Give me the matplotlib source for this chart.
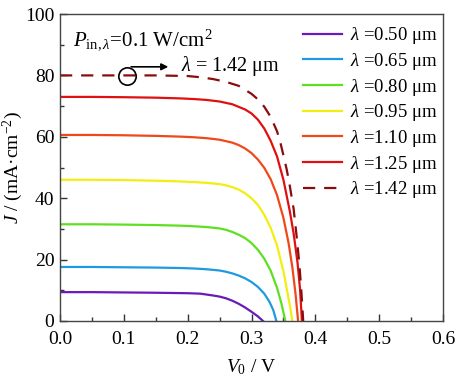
import numpy as np
import matplotlib
matplotlib.use("Agg")
import matplotlib.pyplot as plt

plt.rcParams['font.family'] = ['Liberation Serif', 'DejaVu Serif']
plt.rcParams['mathtext.fontset'] = 'custom'
plt.rcParams['mathtext.rm'] = 'Liberation Serif'
plt.rcParams['mathtext.it'] = 'Liberation Serif:italic'

# J-V curves, V in volts, J in mA/cm2
labels = ['0.50', '0.65', '0.80', '0.95', '1.10', '1.25', '1.42']
colors = ['#6a1ab8', '#1e9ae0', '#5ee020', '#f2ee10', '#f04818', '#e01010', '#8b0c0c']

v050 = [0, 0.05, 0.10, 0.15, 0.20, 0.22, 0.23, 0.24, 0.25, 0.26, 0.27, 0.28, 0.29, 0.30, 0.31, 0.318]
j050 = [9.4, 9.4, 9.3, 9.2, 9.05, 8.9, 8.6, 8.3, 7.95, 7.4, 6.6, 5.6, 4.4, 3.0, 1.5, 0]
v065 = [0, 0.05, 0.10, 0.15, 0.19, 0.21, 0.23, 0.25, 0.26, 0.27, 0.28, 0.29, 0.30, 0.31, 0.32, 0.328, 0.334, 0.339]
j065 = [17.6, 17.6, 17.5, 17.4, 17.25, 17.1, 16.85, 16.45, 16.05, 15.5, 14.8, 13.9, 12.7, 11.1, 8.9, 6.3, 3.6, 0]
v080 = [0, 0.05, 0.10, 0.15, 0.19, 0.21, 0.23, 0.25, 0.26, 0.27, 0.28, 0.29, 0.30, 0.31, 0.32, 0.33, 0.34, 0.347, 0.353]
j080 = [31.5, 31.5, 31.4, 31.25, 31.05, 30.85, 30.6, 30.15, 29.7, 29.0, 28.1, 27.0, 25.4, 23.2, 20.3, 16.4, 10.8, 5.6, 0]
v095 = [0, 0.05, 0.10, 0.15, 0.19, 0.21, 0.23, 0.25, 0.26, 0.27, 0.28, 0.29, 0.30, 0.31, 0.32, 0.33, 0.34,
        0.35, 0.356, 0.361, 0.364]
j095 = [46, 46, 45.9, 45.7, 45.45, 45.25, 45.0, 44.6, 44.2, 43.6, 42.8, 41.6, 40.0, 37.8, 34.6, 30.4, 24.6,
        16.2, 9.6, 4.0, 0]
v110 = [0, 0.05, 0.10, 0.15, 0.19, 0.21, 0.23, 0.25, 0.27, 0.28, 0.29, 0.30, 0.31, 0.32, 0.33, 0.34, 0.35,
        0.358, 0.364, 0.369, 0.373]
j110 = [60.6, 60.6, 60.5, 60.3, 60.05, 59.85, 59.55, 59.05, 58.1, 57.3, 56.2, 54.7, 52.6, 49.9, 46.2, 41.0, 33.6,
        25.5, 17.5, 8.8, 0]
v125 = [0, 0.05, 0.10, 0.15, 0.19, 0.21, 0.23, 0.25, 0.27, 0.29, 0.30, 0.31, 0.32, 0.33, 0.34, 0.35, 0.36,
        0.366, 0.372, 0.376, 0.379]
j125 = [73, 73, 72.9, 72.75, 72.5, 72.3, 72.0, 71.5, 70.6, 68.9, 67.6, 65.6, 62.7, 58.7, 53.6, 46.0, 35.8,
        28.5, 19.2, 10.5, 0]
v142 = [0, 0.05, 0.10, 0.15, 0.20, 0.22, 0.24, 0.26, 0.28, 0.30, 0.31, 0.32, 0.33, 0.34, 0.345, 0.35, 0.355,
        0.36, 0.366, 0.371, 0.375, 0.378, 0.381]
j142 = [80, 80, 80, 80, 79.8, 79.4, 78.8, 77.9, 76.6, 74.0, 72.2, 69.8, 66.5, 61.8, 58.3, 54.0, 49.5,
        44.0, 36.5, 27.0, 18.5, 10.0, 0]

vs = [v050, v065, v080, v095, v110, v125, v142]
js = [j050, j065, j080, j095, j110, j125, j142]

fig = plt.figure(figsize=(4.67, 3.83), dpi=100)
ax = fig.add_axes([0.1285, 0.1619, 0.8201, 0.8015])

for i in range(len(labels)):
    lab = r'$\lambda$ =' + labels[i] + ' μm'
    if i == len(labels) - 1:
        ax.plot(vs[i], js[i], color=colors[i], lw=1.6, dashes=(5.5, 4), label=lab)
    else:
        ax.plot(vs[i], js[i], color=colors[i], lw=1.6, label=lab)

ax.set_xlim(0, 0.6)
ax.set_ylim(0, 100)
ax.set_xticks(np.arange(0, 0.61, 0.1))
ax.set_xticklabels(['%.1f' % t for t in np.arange(0, 0.61, 0.1)])
ax.set_xticks(np.arange(0.05, 0.6, 0.1), minor=True)
ax.set_yticks(np.arange(0, 101, 20))
ax.set_yticks(np.arange(10, 100, 20), minor=True)
ax.tick_params(which='both', direction='in', labelsize=14, top=False, right=False, color='#333333')
ax.tick_params(which='major', length=5, width=1)
ax.tick_params(which='minor', length=3, width=1)
ax.tick_params(axis='x', pad=7)
ax.tick_params(axis='y', pad=4)
for s in ax.spines.values():
    s.set_color('#444444')
    s.set_linewidth(1.0)

ax.set_xlabel(r'$V_0$ / V', fontsize=14, labelpad=7)
ax.set_ylabel(r'$J$ / (mA·cm$^{-2}$)', fontsize=14)
ax.yaxis.set_label_coords(-0.092, 0.5)

ax.text(0.021, 91.5, r'$P_{\mathrm{in},\lambda}$=0.1 W/cm$^2$', fontsize=15, va='center')
ax.plot([0.1045], [79.8], 'o', ms=12.5, mfc='none', mec='k', mew=1.2)
ax.annotate('', xy=(0.174, 82.8), xytext=(0.107, 82.8),
            arrowprops=dict(arrowstyle='-|>', color='k', lw=1.2, mutation_scale=10))
ax.text(0.19, 83.2, r'$\lambda$ = 1.42 μm', fontsize=14.5, va='center')

ax.legend(loc='upper right', bbox_to_anchor=(1.015, 1.0), frameon=False, fontsize=13.5,
          handlelength=2.1, handletextpad=0.4, labelspacing=0.25, borderaxespad=0.2)

fig.savefig('out.png', dpi=100)
